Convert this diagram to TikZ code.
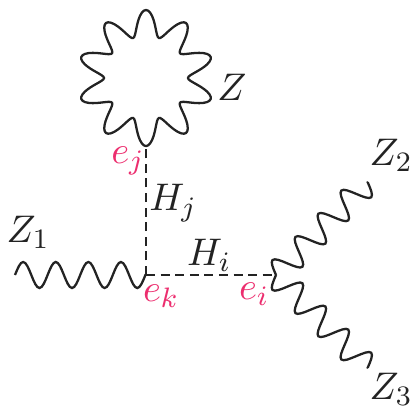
\documentclass[tikz,border=0pt]{standalone}
\usetikzlibrary{decorations}
\definecolor{vertexpink}{RGB}{236,45,110}
\definecolor{inkgray}{RGB}{35,35,35}
% one full sine period per state
\pgfdeclaredecoration{wiggle}{wave}{
  \state{wave}[width=\pgfdecorationsegmentlength]{
    \def\L{\pgfdecorationsegmentlength}
    \def\A{\pgfdecorationsegmentamplitude}
    \pgfpathcurveto{\pgfqpoint{0.0815\L}{0.5123\A}}{\pgfqpoint{0.1595\L}{\A}}{\pgfqpoint{0.25\L}{\A}}
    \pgfpathcurveto{\pgfqpoint{0.3405\L}{\A}}{\pgfqpoint{0.4185\L}{0.5123\A}}{\pgfqpoint{0.5\L}{0pt}}
    \pgfpathcurveto{\pgfqpoint{0.5815\L}{-0.5123\A}}{\pgfqpoint{0.6595\L}{-\A}}{\pgfqpoint{0.75\L}{-\A}}
    \pgfpathcurveto{\pgfqpoint{0.8405\L}{-\A}}{\pgfqpoint{0.9185\L}{-0.5123\A}}{\pgfqpoint{\L}{0pt}}
  }
  \state{final}{\pgfpathlineto{\pgfpointdecoratedpathlast}}
}
\tikzset{
  higgs/.style={inkgray, line width=0.65pt, dash pattern=on 2.6pt off 1.55pt},
  boson/.style={inkgray, line width=0.65pt, decorate, decoration={wiggle, amplitude=0.13cm, segment length=0.326cm}},
  bosonflip/.style={boson, decoration={mirror}},
  lbl/.style={inkgray, inner sep=0pt, font=\fontsize{10.8}{13}\selectfont},
  vlbl/.style={lbl, text=vertexpink}
}
\begin{document}
\begin{tikzpicture}
\useasboundingbox (0,0) rectangle (4.11,4.07);
\coordinate (ek) at (1.46,1.32);
\coordinate (ei) at (2.76,1.32);
\coordinate (ej) at (1.46,2.61);
\coordinate (z1end) at (0.15,1.32);
\coordinate (z2end) at (3.68,2.25);
\coordinate (z3end) at (3.68,0.39);
% scalars
\draw[higgs] (ek) -- (ej);
\draw[higgs] (ek) -- (ei);
% external bosons
\draw[boson] (z1end) -- (ek);
\draw[boson] (ei) -- (z2end);
\draw[bosonflip] (ei) -- (z3end);
% the loop
\draw[inkgray, line width=0.65pt, smooth, samples=201, domain=0:360, shift={(1.46,3.29)}]
  plot ({(0.55+0.13*cos(10*\x))*cos(\x-90)},{(0.55+0.13*cos(10*\x))*sin(\x-90)});
% labels
\node[lbl] (zloop) at (2.32,3.20) {$Z$};
\node[lbl] (zone) at (0.28,1.75) {$Z_1$};
\node[lbl] (ztwo) at (3.91,2.52) {$Z_2$};
\node[lbl] (zthree) at (3.91,0.18) {$Z_3$};
\node[lbl] (hj) at (1.73,2.04) {$H_j$};
\node[lbl] (hi) at (2.09,1.52) {$H_i$};
\node[vlbl] (lj) at (1.28,2.46) {$e_j$};
\node[vlbl] (lk) at (1.61,1.11) {$e_k$};
\node[vlbl] (li) at (2.54,1.13) {$e_i$};
\end{tikzpicture}
\end{document}
